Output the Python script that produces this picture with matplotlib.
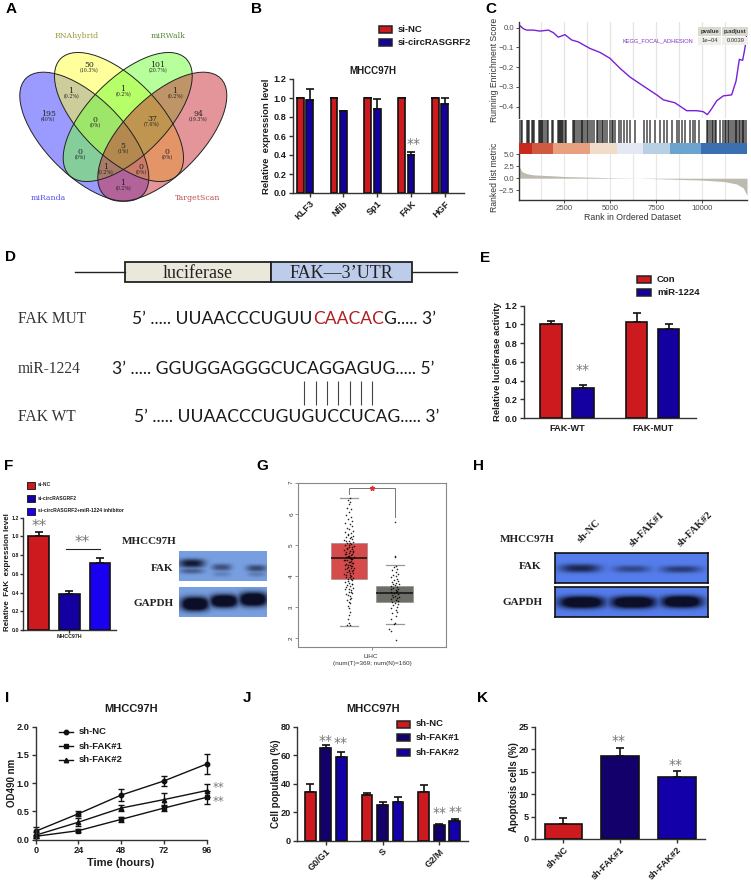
import numpy as np
import matplotlib
matplotlib.use('Agg')
import matplotlib.pyplot as plt
from matplotlib.patches import Ellipse, Rectangle

plt.rcParams['font.family'] = ['Liberation Sans', 'DejaVu Sans']
W, H = 751, 883
RED, NAVY, DKNAVY, BLUE = '#CC1A1E', '#1400A0', '#13006A', '#1400A8'
INK = '#1c1c1c'
STAR = '#777777'

# ---------- data ----------
venn_sets = ['RNAhybrid', 'miRWalk', 'miRanda', 'TargetScan']
venn_counts = ['50', '101', '195', '94', '1', '1', '1', '0', '37', '5', '0', '0', '1', '0', '1']
venn_pcts = ['(10.3%)', '(20.7%)', '(40%)', '(19.3%)', '(0.2%)', '(0.2%)', '(0.2%)', '(0%)', '(7.6%)',
             '(1%)', '(0%)', '(0%)', '(0.2%)', '(0%)', '(0.2%)']

b_genes = ['KLF3', 'Nfib', 'Sp1', 'FAK', 'HGF']
b_nc = [1.0, 1.0, 1.0, 1.0, 1.0]
b_si = [0.98, 0.86, 0.88, 0.40, 0.94]
b_si_err = [0.11, 0.005, 0.11, 0.035, 0.06]

es_rank = [54, 110, 290, 470, 830, 1196, 1650, 1920, 2190, 2550, 2915, 3280, 3910, 4456, 5000, 5540, 6090,
           6810, 7540, 7900, 8530, 9170, 9710, 10070, 10290, 10525, 10800, 11160, 11610, 11850, 12030,
           12210, 12340, 12410, 12446]
es_val = [0.0, 0.01, -0.005, -0.012, -0.012, -0.017, -0.012, -0.025, -0.048, -0.035, -0.062, -0.072, -0.105,
          -0.125, -0.155, -0.205, -0.25, -0.295, -0.34, -0.365, -0.38, -0.42, -0.42, -0.425, -0.44, -0.41,
          -0.37, -0.345, -0.34, -0.27, -0.16, -0.165, -0.10, -0.05, -0.03]
hit_ranks = [73, 146, 200, 471, 526, 616, 743, 797, 888, 1141, 1195, 1250, 1322, 1376, 1467, 1557, 1630, 1847,
             1919, 2191, 2245, 2299, 2354, 2408, 2462, 2535, 2607, 3005, 3060, 3114, 3186, 3331, 3404, 3476,
             3548, 3621, 3729, 3820, 3892, 4019, 4109, 4272, 4363, 4453, 4544, 4634, 4725, 4833, 5014, 5087,
             5177, 5268, 5467, 5576, 5738, 5919, 6100, 6372, 6824, 7005, 7186, 7458, 7729, 7910, 8091, 8363,
             8634, 8725, 8906, 9087, 9358, 9503, 9630, 9811, 10264, 10336, 10426, 10517, 10607, 10716, 10788,
             10987, 11168, 11258, 11331, 11403, 11494, 11585, 11711, 11783, 11856, 11928, 12000, 12055, 12163,
             12236, 12308, 12380]
band_edges = [54, 779, 1919, 3910, 5358, 6806, 8254, 9920, 12446]
band_colors = ['#C8281E', '#D05A40', '#E8A080', '#F0DCC8', '#E4E8F4', '#B8D0E4', '#6CA4D0', '#3A70B0']
metric_rank = [54, 200, 471, 833, 2100, 2500, 5000, 6263, 7476, 10000, 11200, 11870, 12236, 12446]
metric_val = [2.6, 1.4, 0.95, 0.7, 0.45, 0.35, 0.1, 0.02, -0.1, -0.4, -0.7, -1.2, -2.0, -3.6]

e_groups = ['FAK-WT', 'FAK-MUT']
e_con = [1.0, 1.03]
e_con_err = [0.04, 0.09]
e_mir = [0.32, 0.95]
e_mir_err = [0.03, 0.05]

f_labels = ['si-NC', 'si-circRASGRF2', 'si-circRASGRF2+miR-1224 inhibitor']
f_vals = [1.0, 0.38, 0.72]
f_errs = [0.05, 0.04, 0.045]

g_tumor = dict(med=4.57, q1=3.92, q3=5.06, whislo=2.41, whishi=6.52)
g_normal = dict(med=3.44, q1=3.18, q3=3.68, whislo=2.45, whishi=4.34)
g_t_y = [6.5, 6.45, 6.38, 6.3, 6.2, 6.15, 6.05, 5.95, 5.9, 5.82, 5.78, 5.7, 5.66, 5.6, 5.55, 5.5, 5.46, 5.42,
         5.38, 5.33, 5.3, 5.26, 5.22, 5.18, 5.15, 5.12, 5.09, 5.05, 5.03, 5.0, 4.97, 4.94, 4.9, 4.88, 4.85,
         4.82, 4.8, 4.78, 4.75, 4.72, 4.7, 4.67, 4.65, 4.62, 4.6, 4.58, 4.55, 4.52, 4.5, 4.47, 4.45, 4.42,
         4.4, 4.37, 4.35, 4.32, 4.3, 4.27, 4.25, 4.22, 4.2, 4.16, 4.14, 4.1, 4.08, 4.04, 4.0, 3.97, 3.94,
         3.9, 3.86, 3.82, 3.78, 3.75, 3.71, 3.67, 3.63, 3.6, 3.55, 3.5, 3.46, 3.42, 3.36, 3.3, 3.24, 3.18,
         3.12, 3.04, 2.96, 2.85, 2.75, 2.62, 2.5, 2.44, 2.42,
         5.35, 5.24, 5.14, 5.07, 4.99, 4.92, 4.86, 4.81, 4.76, 4.71, 4.66, 4.61, 4.56, 4.51, 4.46, 4.41, 4.36,
         4.31, 4.26, 4.21, 4.15, 4.09, 4.03, 3.96, 3.89, 3.83, 3.74, 3.66, 3.58, 3.49, 3.38, 3.27]
g_t_dx = [0.02, -0.03, 0.03, 0.0, -0.04, 0.05, 0.01, -0.06, 0.04, -0.02, 0.07, -0.08, 0.02, 0.06, -0.05, 0.0,
          0.08, -0.09, 0.04, -0.02, 0.09, -0.07, 0.03, 0.06, -0.1, 0.01, 0.08, -0.04, 0.05, -0.08, 0.1, 0.0,
          -0.05, 0.07, -0.1, 0.03, 0.09, -0.06, 0.01, 0.06, -0.09, 0.04, -0.02, 0.1, -0.07, 0.03, 0.07, -0.04,
          -0.1, 0.05, 0.0, 0.09, -0.06, 0.03, -0.09, 0.07, -0.02, 0.1, 0.04, -0.08, 0.01, 0.06, -0.05, 0.09,
          -0.1, 0.02, 0.05, -0.07, 0.08, -0.03, 0.06, -0.09, 0.01, 0.07, -0.05, 0.03, 0.09, -0.08, 0.04, -0.01,
          0.07, -0.06, 0.02, 0.05, -0.04, 0.0, 0.03, -0.02, 0.01, 0.02, -0.01, -0.03, 0.0, -0.05, 0.03,
          -0.03, 0.04, -0.07, 0.02, -0.01, 0.06, -0.04, 0.03, 0.08, -0.06, 0.01, -0.03, 0.05, -0.08, 0.02, 0.06,
          -0.02, 0.04, -0.05, 0.08, -0.01, 0.03, -0.06, 0.02, 0.05, -0.03, 0.06, -0.07, 0.0, 0.04, -0.02, 0.02]
g_n_y = [5.73, 4.65, 4.6, 4.32, 4.28, 4.22, 4.18, 4.12, 4.08, 4.05, 4.0, 3.96, 3.92, 3.88, 3.85, 3.82, 3.79,
         3.76, 3.73, 3.7, 3.68, 3.66, 3.63, 3.6, 3.58, 3.55, 3.53, 3.5, 3.48, 3.45, 3.42, 3.4, 3.37, 3.34,
         3.32, 3.29, 3.26, 3.24, 3.2, 3.17, 3.14, 3.1, 3.06, 3.02, 2.98, 2.92, 2.86, 2.8, 2.72, 2.62, 2.5,
         2.45, 2.3, 2.22, 1.93]
g_n_dx = [0.0, 0.01, 0.0, 0.03, -0.02, 0.06, -0.05, 0.04, 0.07, -0.03, 0.02, -0.08, 0.06, -0.01, 0.08, -0.06,
          0.03, -0.04, 0.09, 0.0, -0.08, 0.05, -0.03, 0.08, -0.07, 0.02, 0.06, -0.09, 0.04, -0.02, 0.07, -0.06,
          0.01, 0.09, -0.04, 0.05, -0.08, 0.03, 0.07, -0.05, 0.01, 0.08, -0.03, 0.05, -0.07, 0.02, 0.06, -0.05,
          0.04, -0.08, 0.0, -0.02, -0.13, -0.07, 0.03]

i_hours = [0, 24, 48, 72, 96]
i_labels = ['sh-NC', 'sh-FAK#1', 'sh-FAK#2']
i_nc = [0.15, 0.46, 0.79, 1.04, 1.34]
i_nc_err = [0.08, 0.04, 0.11, 0.09, 0.18]
i_f1 = [0.06, 0.16, 0.36, 0.56, 0.75]
i_f1_err = [0.03, 0.03, 0.05, 0.05, 0.11]
i_f2 = [0.08, 0.31, 0.56, 0.71, 0.87]
i_f2_err = [0.05, 0.07, 0.06, 0.11, 0.11]

j_phases = ['G0/G1', 'S', 'G2/M']
j_nc = [34.5, 32, 34]
j_nc_err = [5.5, 1.5, 5]
j_f1 = [65, 25, 11]
j_f1_err = [2.5, 2.5, 0.5]
j_f2 = [59, 27.5, 14]
j_f2_err = [3.5, 3, 1]

k_vals = [3.3, 18.4, 13.7]
k_errs = [1.4, 1.8, 1.4]

# ---------- helpers ----------
fig = plt.figure(figsize=(W / 100, H / 100), dpi=100, facecolor='white')


def ax_px(l, t, r, b, **kw):
    return fig.add_axes([l / W, 1 - b / H, (r - l) / W, (b - t) / H], **kw)


ov = fig.add_axes([0, 0, 1, 1], zorder=20)
ov.set_xlim(0, W)
ov.set_ylim(H, 0)
ov.axis('off')
ov.patch.set_alpha(0)


def T(x, y, s, size=7, weight='normal', color=INK, ha='center', va='center', family=None, rot=0, **kw):
    return ov.text(x, y, s, fontsize=size, fontweight=weight, color=color, ha=ha, va=va,
                   family=family if family else plt.rcParams['font.family'], rotation=rot, **kw)


def prism(ax, size=6.6):
    for s in ('top', 'right'):
        ax.spines[s].set_visible(False)
    for s in ('left', 'bottom'):
        ax.spines[s].set_linewidth(1.0)
        ax.spines[s].set_color('#333333')
    ax.tick_params(width=1.0, length=3, color='#333333', pad=1.5, labelsize=size, labelcolor=INK)
    for lab in ax.get_xticklabels() + ax.get_yticklabels():
        lab.set_fontweight('bold')
    ax.patch.set_alpha(0)


def bars(ax, x, vals, errs, colors, w, lw=1.2):
    ax.bar(x, vals, w, color=colors, edgecolor='#111111', linewidth=lw, zorder=3)
    ax.errorbar(x, vals, yerr=[np.zeros(len(vals)), errs], fmt='none', ecolor='#111111',
                elinewidth=1.2, capsize=2.6, capthick=1.2, zorder=2, clip_on=False)


def legend_px(x0, x1, xt, ys, labels, colors, size=6.8):
    for y, lab, c in zip(ys, labels, colors):
        ov.add_patch(Rectangle((x0, y - 3.5), x1 - x0, 7, fc=c, ec='#222222', lw=1.1))
        T(xt, y, lab, size=size, weight='bold', ha='left')


def stars(x, y, size=11):
    T(x, y + 2, '**', size=size, color=STAR, family=['DejaVu Sans'])


def blot(l, t, r, b, bg, bands, edge=None):
    a = ax_px(l, t, r, b)
    xs = np.linspace(l, r, int((r - l) * 2))
    ys = np.linspace(t, b, int((b - t) * 2))
    X, Y = np.meshgrid(xs, ys)
    d = np.zeros_like(X)
    for xc, yc, w, h, i in bands:
        d = np.maximum(d, i * np.exp(-np.abs((X - xc) / w) ** 3 - np.abs((Y - yc) / h) ** 2.4))
    d = np.clip(d, 0, 1)
    bgc = np.array(bg, float)
    dark = np.array([12, 15, 40.0])
    img = bgc[None, None, :] * (1 - d[..., None]) + dark[None, None, :] * d[..., None]
    a.imshow(img / 255, extent=(l, r, b, t), aspect='auto', interpolation='bilinear')
    a.set_xticks([])
    a.set_yticks([])
    for s in a.spines.values():
        if edge:
            s.set_linewidth(1.2)
            s.set_color(edge)
        else:
            s.set_visible(False)


# ---------- panel letters ----------
for s, x, y in [('A', 11, 9), ('B', 257, 9), ('C', 491, 9), ('D', 10, 257), ('E', 485, 258), ('F', 9, 466),
                ('G', 262, 466), ('H', 479, 466), ('I', 7, 698), ('J', 247, 698), ('K', 483, 698)]:
    T(x, y, s, size=11, weight='bold', color='black')

# ---------- A: Venn ----------
ven = fig.add_axes([0, 0, 1, 1], zorder=1)
ven.set_xlim(0, W)
ven.set_ylim(H, 0)
ven.axis('off')
ven.patch.set_alpha(0)
ell = [(84.3, 136.7, 45, '#3939FF'), (119, 117, 45, '#FFFF39'), (127.7, 117, -45, '#70FF39'),
       (162.3, 136.7, -45, '#C82D37')]
for (cx, cy, ang, c) in ell:
    ven.add_patch(Ellipse((cx, cy), 165, 78, angle=ang, fc=c, ec='none', alpha=0.5))
for (cx, cy, ang, c) in ell:
    ven.add_patch(Ellipse((cx, cy), 165, 78, angle=ang, fc='none', ec='#222222', lw=0.7))
for s, x, y, c in zip(venn_sets, [77, 168, 48, 198], [36, 36, 198, 198],
                      ['#9A9A3C', '#5A8A3A', '#5555EE', '#C05050']):
    T(x, y, s, size=5.6, color=c, family=['DejaVu Serif'])
vx = [89, 158, 48, 198, 71, 123, 175, 95, 152, 123, 80, 167, 106, 141, 123]
vy = [65, 65, 114, 114, 91, 89, 91, 120, 119, 146, 152, 152, 167, 167, 183]
for x, y, n, p in zip(vx, vy, venn_counts, venn_pcts):
    T(x, y, n, size=5.6, color='#222222', family=['DejaVu Serif'])
    T(x, y + 5.3, p, size=3.4, color='#222222', family=['DejaVu Serif'])

# ---------- B ----------
ax = ax_px(293, 79, 464, 193)
gx = np.arange(5)
bars(ax, gx - 0.14, b_nc, [0] * 5, RED, 0.2)
bars(ax, gx + 0.14, b_si, b_si_err, NAVY, 0.2)
ax.set_xlim(-0.355, 4.71)
ax.set_ylim(0, 1.2)
ax.set_xticks(gx + 0.14, b_genes, rotation=45, ha='right', rotation_mode='anchor')
ax.set_yticks([0, 0.2, 0.4, 0.6, 0.8, 1.0, 1.2])
ax.set_ylabel('Relative  expression level', fontsize=6.8, fontweight='bold', labelpad=2, color=INK)
prism(ax)
T(373, 71, 'MHCC97H', size=7, weight='bold')
stars(414, 142, 10)
legend_px(379, 391.5, 398, [29, 42.5], ['si-NC', 'si-circRASGRF2'], [RED, NAVY])

# ---------- C ----------
xl = (54, 12446)
gr = np.arange(1250, 12001, 1250)
ax = ax_px(519, 22, 747, 118)
ax.vlines(gr, -1, 1, color='#E4E4E4', lw=0.9, zorder=0)
ax.plot(es_rank, es_val, color='#7A1FD6', lw=1.0)
ax.set_xlim(*xl)
ax.set_ylim(-0.457, 0.029)
ax.set_xticks([])
ax.set_yticks([0, -0.1, -0.2, -0.3, -0.4], ['0.0', '\u22120.1', '\u22120.2', '\u22120.3', '\u22120.4'])
ax.tick_params(labelsize=5.6, length=2, width=0.6, pad=1.5, labelcolor='#4d4d4d', color='#333333')
for s in ('top', 'right', 'bottom'):
    ax.spines[s].set_visible(False)
ax.spines['left'].set_color('#333333')
ax.spines['left'].set_linewidth(1.0)

ax = ax_px(519, 120, 747, 143)
ax.vlines(hit_ranks, 0, 1, color='black', alpha=0.72, lw=1.1)
ax.set_xlim(*xl)
ax.set_ylim(0, 1)
ax.axis('off')

ax = ax_px(519, 143, 747, 154)
for a0, a1, c in zip(band_edges[:-1], band_edges[1:], band_colors):
    ax.axvspan(a0, a1, color=c, lw=0)
ax.set_xlim(*xl)
ax.axis('off')

ax = ax_px(519, 154, 747, 200)
ax.vlines(gr, -6, 6, color='#E8E8E8', lw=0.9, zorder=0)
ax.fill_between(metric_rank, metric_val, 0, color='#BEBAB0', lw=0)
ax.set_xlim(*xl)
ax.set_ylim(-4.55, 5.05)
ax.set_yticks([5, 2.5, 0, -2.5], ['5.0', '2.5', '0.0', '\u22122.5'])
ax.set_xticks([2500, 5000, 7500, 10000], ['2500', '5000', '7500', '10000'])
ax.tick_params(labelsize=5.6, length=2, width=0.6, pad=1.5, labelcolor='#4d4d4d', color='#333333')
for s in ('top', 'right'):
    ax.spines[s].set_visible(False)
for s in ('left', 'bottom'):
    ax.spines[s].set_color('#333333')
    ax.spines[s].set_linewidth(1.0)
T(633, 217, 'Rank in Ordered Dataset', size=6.3, color='#333333')
T(494.7, 70, 'Running Enrichment Score', size=6.2, color='#333333', rot=90)
T(494.7, 177.5, 'Ranked list metric', size=6.2, color='#333333', rot=90)
T(693, 40.7, 'KEGG_FOCAL_ADHESION', size=4.1, color='#7B2FBE', ha='right')
for x0, x1, hd, bd in [(698.3, 721, 'pvalue', '1e\u221204'), (722.3, 748.3, 'p.adjust', '0.0039')]:
    ov.add_patch(Rectangle((x0, 26.7), x1 - x0, 9, fc='#D9D9D0', ec='none'))
    ov.add_patch(Rectangle((x0, 36.7), x1 - x0, 8.3, fc='#EFEFEA', ec='none'))
    T((x0 + x1) / 2, 31.2, hd, size=4.2, weight='bold', color='#333333')
    T((x0 + x1) / 2, 40.8, bd, size=4.2, color='#333333')

# ---------- D ----------
ov.plot([75, 124.5], [272.3, 272.3], color='#222222', lw=1.0)
ov.plot([412, 457], [272.3, 272.3], color='#222222', lw=1.0)
ov.add_patch(Rectangle((124.5, 262), 146.5, 20, fc='#E9E8DA', ec='#222222', lw=1.3))
ov.add_patch(Rectangle((271, 262), 141, 20, fc='#BECCEB', ec='#222222', lw=1.3))
SER = ['Liberation Serif']
T(198, 273, 'luciferase', size=13, family=SER, color='#222222')
T(341, 273, 'FAK\u20143\u2019UTR', size=13, family=SER, color='#222222')
T(18, 319, 'FAK MUT', size=11.2, family=SER, ha='left', color='#333333')
T(18, 369, 'miR-1224', size=11.2, family=SER, ha='left', color='#333333')
T(18, 417, 'FAK WT', size=11.2, family=SER, ha='left', color='#333333')
SEQ = ['Lato']
SEQS = 12.6
fig.canvas.draw()
rend = fig.canvas.get_renderer()
cur = 132
for piece, col in [('5\u2019 ..... UUAACCCUGUU', '#1a1a1a'), ('CAACAC', '#B01E22'), ('G..... 3\u2019', '#1a1a1a')]:
    t = T(cur, 319, piece, size=SEQS, family=SEQ, ha='left', color=col)
    cur = ov.transData.inverted().transform(t.get_window_extent(rend).get_points())[1, 0] + 0.5
T(112, 369, '3\u2019 ..... GGUGGAGGGCUCAGGAGUG..... 5\u2019', size=SEQS, family=SEQ, ha='left', color='#1a1a1a')
T(134, 417, '5\u2019 ..... UUAACCCUGUGUCCUCAG..... 3\u2019', size=SEQS, family=SEQ, ha='left', color='#1a1a1a')
ov.vlines([304.3, 315.6, 327, 338.3, 349.7, 361, 372.3], 381, 405, color='#444444', lw=0.8)

# ---------- E ----------
ax = ax_px(524, 305.7, 695.7, 418)
gx = np.arange(2)
bars(ax, gx - 0.1875, e_con, e_con_err, RED, 0.25)
bars(ax, gx + 0.1875, e_mir, e_mir_err, NAVY, 0.25)
ax.set_xlim(-0.504, 1.504)
ax.set_ylim(0, 1.2)
ax.set_xticks(gx, e_groups)
ax.set_yticks([0, 0.2, 0.4, 0.6, 0.8, 1.0, 1.2])
ax.set_ylabel('Relative luciferase activity', fontsize=6.8, fontweight='bold', labelpad=2, color=INK)
prism(ax)
ax.tick_params(axis='x', length=0, pad=4)
stars(582.5, 368, 10)
legend_px(637, 650.5, 657, [279.3, 292.7], ['Con', 'miR-1224'], [RED, NAVY])

# ---------- F ----------
ax = ax_px(22.7, 517.7, 115.7, 630)
fx = np.arange(3)
bars(ax, fx, f_vals, f_errs, [RED, NAVY, '#1A00F0'], 0.674)
ax.set_xlim(-0.525, 2.51)
ax.set_ylim(0, 1.2)
ax.set_xticks([1], ['MHCC97H'])
ax.set_yticks([0, 0.2, 0.4, 0.6, 0.8, 1.0, 1.2], ['0.0', '0.2', '0.4', '0.6', '0.8', '1.0', '1.2'])
prism(ax, size=3.8)
ax.tick_params(length=2, pad=0.8)
T(7.5, 572.5, 'Relative  FAK  expression level', size=5.8, weight='bold', rot=90, color=INK)
stars(39, 525, 11)
stars(82, 541, 11)
ov.plot([66, 100], [549.3, 549.3], color='#222222', lw=0.8)
for y, lab, c in zip([485, 498, 511], f_labels, [RED, NAVY, '#1A00F0']):
    ov.add_patch(Rectangle((27, y - 3.5), 7.5, 7, fc=c, ec='#222222', lw=0.7))
    T(38, y, lab, size=3.6, weight='bold', ha='left')
T(149, 542, 'MHCC97H', size=8, weight='bold', family=SER, color='#222222')
T(173.5, 568.5, 'FAK', size=8, weight='bold', family=SER, ha='right', color='#222222')
T(174, 604, 'GAPDH', size=8, weight='bold', family=SER, ha='right', color='#222222')
blot(179, 551, 267, 581, (120, 160, 225),
     [(191.7, 563.3, 13, 4.5, 0.95), (191.7, 571, 12, 3, 0.45), (221.7, 567.3, 10, 3.5, 0.55),
      (221.7, 574, 9, 3, 0.2), (256.7, 568.3, 10, 3.5, 0.6), (256.7, 574, 9, 3, 0.25)])
blot(179, 587, 267, 617, (120, 160, 225),
     [(195, 604, 14, 7, 1.6), (224, 601, 14, 6.5, 1.6), (253.3, 599.3, 14, 7, 1.6)])

# ---------- G ----------
ax = ax_px(298.3, 482.7, 445.7, 646.7)
ax.bxp([dict(g_tumor, fliers=[]), dict(g_normal, fliers=[])], positions=[1, 2], widths=0.8, patch_artist=True,
       showfliers=False, boxprops=dict(lw=0.4, edgecolor='#888888'), medianprops=dict(color='#111111', lw=1.1),
       whiskerprops=dict(lw=0, alpha=0), capprops=dict(color='#999999', lw=0.9), capwidths=0.4, zorder=2)
art = ax.patches
art[0].set_facecolor('#D64B4B')
art[1].set_facecolor('#6E6E68')
ax.scatter(1 + np.array(g_t_dx), g_t_y, s=1.3, color='black', alpha=0.85, lw=0, zorder=3)
ax.scatter(2 + np.array(g_n_dx), g_n_y, s=1.3, color='black', alpha=0.85, lw=0, zorder=3)
ax.set_xlim(-0.109, 3.117)
ax.set_ylim(1.73, 7.0)
ax.set_xticks([1.5], [''])
ax.set_yticks([2, 3, 4, 5, 6, 7], ['2', '3', '4', '5', '6', '7'], rotation=90, va='center')
ax.tick_params(labelsize=4.6, length=2, width=0.5, color='#666666', pad=1, labelcolor='#333333')
for s in ax.spines.values():
    s.set_color('#888888')
    s.set_linewidth(0.8)
ax.plot([1, 1, 2, 2], [6.65, 6.82, 6.82, 5.9], color='#777777', lw=0.7)
ax.plot([1.5], [6.82], marker='*', color='#E0303A', ms=3.5, lw=0)
T(371, 656.7, 'LIHC', size=4.6, color='#333333')
T(372, 663.5, '(num(T)=369; num(N)=160)', size=4.6, color='#333333')

# ---------- H ----------
blot(555, 553, 707.7, 583, (85, 125, 235),
     [(580, 568.3, 20, 4.3, 0.8), (631.7, 569, 18, 3.6, 0.5), (681, 569.3, 20, 3.6, 0.6)], edge='#111111')
blot(555, 587, 707.7, 617, (85, 125, 235),
     [(581.7, 602.3, 22, 6, 1.6), (633.3, 602.3, 22, 6, 1.6), (681.7, 601.7, 20, 6, 1.6)], edge='#111111')
T(527.5, 540, 'MHCC97H', size=8, weight='bold', family=SER, color='#222222')
T(541, 566.7, 'FAK', size=8, weight='bold', family=SER, ha='right', color='#222222')
T(542.5, 602.7, 'GAPDH', size=8, weight='bold', family=SER, ha='right', color='#222222')
for x, y, s in [(589, 531.5, 'sh-NC'), (646.5, 529, 'sh-FAK#1'), (695, 529, 'sh-FAK#2')]:
    T(x, y, s, size=7.6, weight='bold', family=SER, rot=45, color='#222222')

# ---------- I ----------
ax = ax_px(35.7, 726.7, 206.7, 839.7)
for y, e, m, lab in [(i_nc, i_nc_err, 'o', i_labels[0]), (i_f1, i_f1_err, 's', i_labels[1]),
                     (i_f2, i_f2_err, '^', i_labels[2])]:
    ax.errorbar(i_hours, y, yerr=e, color='#111111', marker=m, ms=3.2, lw=1.0, elinewidth=1.0, capsize=2.2,
                capthick=1.0, clip_on=False, label=lab)
ax.set_xlim(0, 96)
ax.set_ylim(0, 2.0)
ax.set_xticks(i_hours, [str(h) for h in i_hours])
ax.set_yticks([0, 0.5, 1.0, 1.5, 2.0], ['0.0', '0.5', '1.0', '1.5', '2.0'])
ax.set_ylabel('OD490 nm', fontsize=7, fontweight='bold', labelpad=0, color=INK)
prism(ax)
T(121, 862.7, 'Time (hours)', size=8, weight='bold')
T(131, 709.3, 'MHCC97H', size=8, weight='bold')
stars(218.5, 785.5, 8.5)
stars(218.5, 799.5, 8.5)
for y, m, lab in zip([731.7, 746.3, 760], ['o', 's', '^'], i_labels):
    ov.plot([59.3, 72.7], [y, y], color='#111111', lw=1.0)
    ov.plot([66], [y], marker=m, color='#111111', ms=3.2, lw=0)
    T(78.5, y, lab, size=6.8, weight='bold', ha='left')

# ---------- J ----------
ax = ax_px(297.3, 727, 468.3, 840.7)
gx = np.arange(3)
bars(ax, gx - 0.273, j_nc, j_nc_err, RED, 0.19)
bars(ax, gx, j_f1, j_f1_err, DKNAVY, 0.19)
bars(ax, gx + 0.273, j_f2, j_f2_err, BLUE, 0.19)
ax.set_xlim(-0.5, 2.51)
ax.set_ylim(0, 80)
ax.set_xticks(gx, j_phases, rotation=45, ha='right', rotation_mode='anchor')
ax.set_yticks([0, 20, 40, 60, 80])
ax.set_ylabel('Cell population (%)', fontsize=7, fontweight='bold', labelpad=0, color=INK)
prism(ax)
T(373.5, 709.3, 'MHCC97H', size=8, weight='bold')
legend_px(396.7, 410, 416, [724, 737.3, 752.7], i_labels, [RED, DKNAVY, BLUE])
stars(325.7, 739, 10)
stars(341, 740.7, 10)
stars(439.3, 810.7, 10)
stars(456, 810, 10)

# ---------- K ----------
ax = ax_px(535, 726.7, 705.3, 839)
bars(ax, np.arange(3), k_vals, k_errs, [RED, DKNAVY, BLUE], 0.665)
ax.set_xlim(-0.503, 2.503)
ax.set_ylim(0, 25)
ax.set_xticks(np.arange(3), i_labels, rotation=45, ha='right', rotation_mode='anchor')
ax.set_yticks([0, 5, 10, 15, 20, 25])
prism(ax)
T(514, 786.7, 'Apoptosis cells (%)', size=7, weight='bold', rot=90)
stars(619, 739, 10)
stars(676, 763.5, 10)

fig.savefig('out.png', dpi=100, facecolor='white')
